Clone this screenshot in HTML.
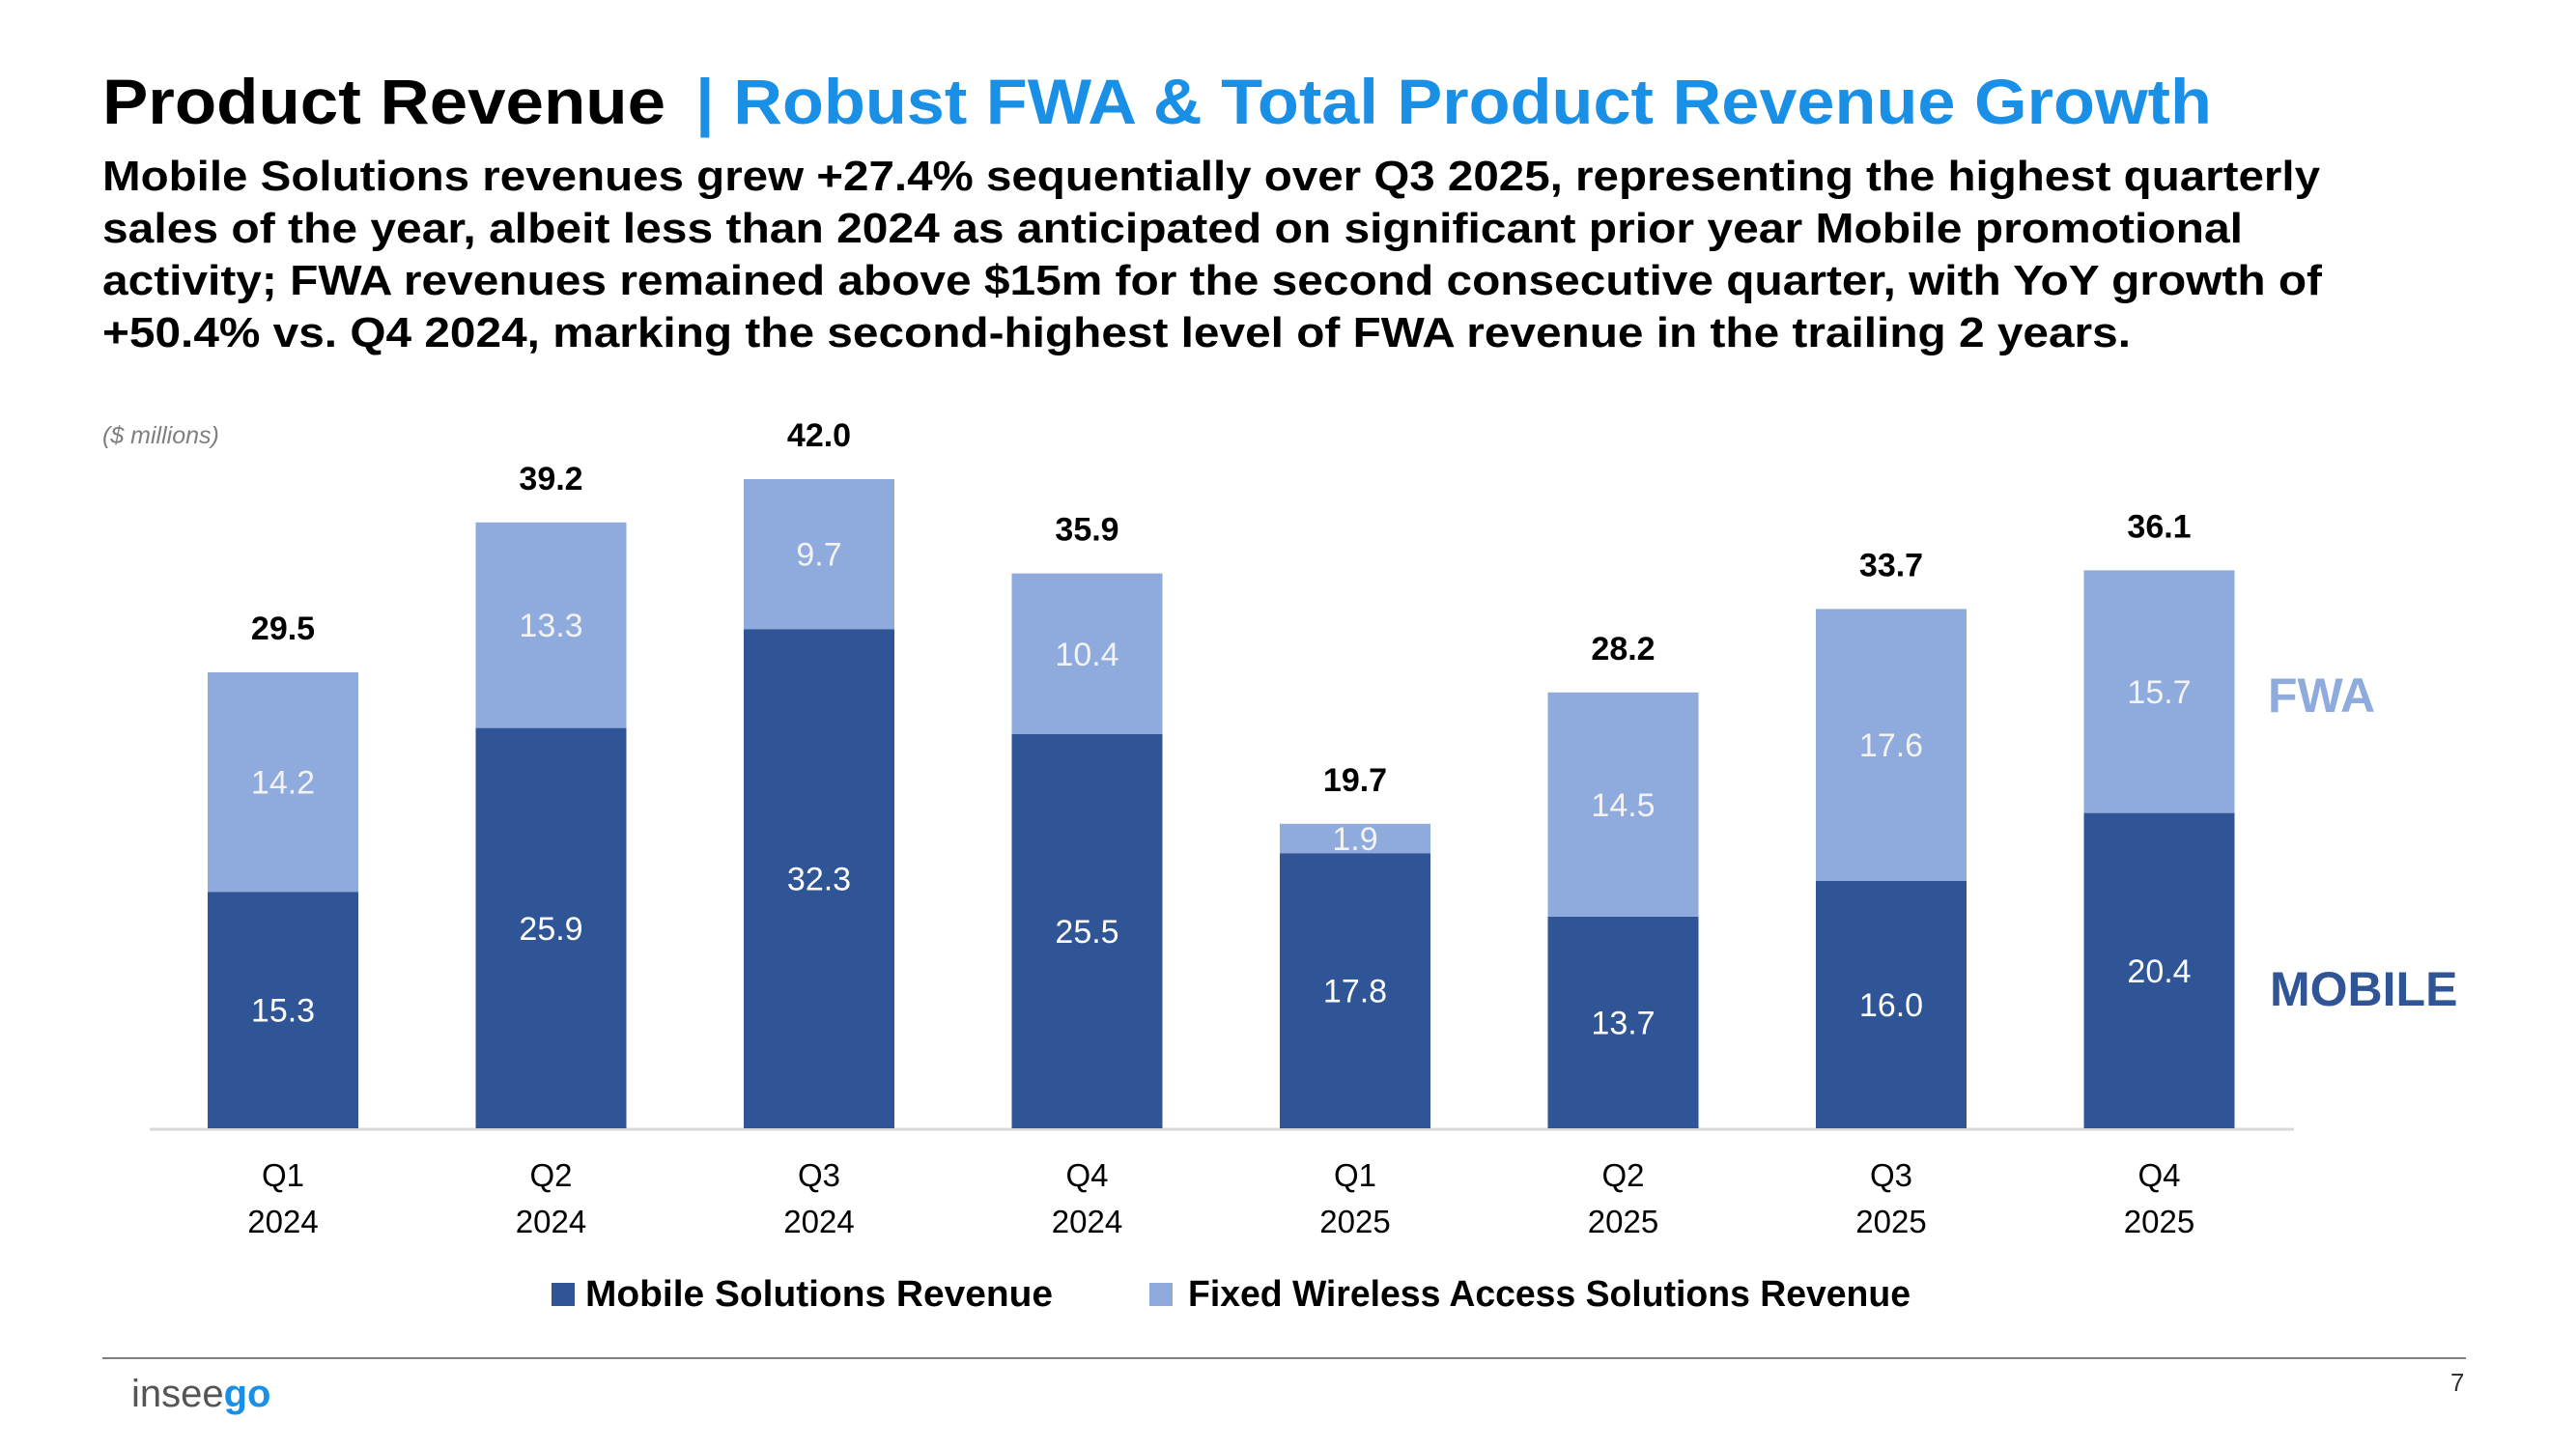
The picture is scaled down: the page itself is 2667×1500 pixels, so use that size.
<!DOCTYPE html>
<html><head><meta charset="utf-8"><style>
html,body{margin:0;padding:0;background:#fff;}
svg{display:block;font-family:"Liberation Sans",Arial,sans-serif;}
</style></head><body>
<svg id="chart" width="2667" height="1500" viewBox="0 0 2667 1500" xmlns="http://www.w3.org/2000/svg">
<text x="106" y="128" font-size="66" font-weight="bold" fill="#000" textLength="583" lengthAdjust="spacingAndGlyphs">Product Revenue</text>
<text x="720" y="128" font-size="66" font-weight="bold" fill="#1a8fe6" textLength="1570" lengthAdjust="spacingAndGlyphs">| Robust FWA &amp; Total Product Revenue Growth</text>
<g font-size="44" font-weight="bold" fill="#000">
<text x="106" y="197" textLength="2296" lengthAdjust="spacingAndGlyphs">Mobile Solutions revenues grew +27.4% sequentially over Q3 2025, representing the highest quarterly</text>
<text x="106" y="251" textLength="2216" lengthAdjust="spacingAndGlyphs">sales of the year, albeit less than 2024 as anticipated on significant prior year Mobile promotional</text>
<text x="106" y="305" textLength="2298" lengthAdjust="spacingAndGlyphs">activity; FWA revenues remained above $15m for the second consecutive quarter, with YoY growth of</text>
<text x="106" y="359" textLength="2100" lengthAdjust="spacingAndGlyphs">+50.4% vs. Q4 2024, marking the second-highest level of FWA revenue in the trailing 2 years.</text>
</g>
<text x="106" y="459" font-size="25" font-style="italic" fill="#7f7f7f">($ millions)</text>
<line x1="155" y1="1169" x2="2375" y2="1169" stroke="#d9d9d9" stroke-width="3"/>
<g id="bars"></g>
<text x="2348" y="737" font-size="50" font-weight="bold" fill="#8faadc">FWA</text>
<text x="2350" y="1041" font-size="50" font-weight="bold" fill="#2f5597">MOBILE</text>
<g>
<rect x="571" y="1328" width="24" height="24" fill="#2f5597"/>
<text x="606" y="1352" font-size="38" font-weight="bold" fill="#000" textLength="484" lengthAdjust="spacingAndGlyphs">Mobile Solutions Revenue</text>
<rect x="1190" y="1328" width="24" height="24" fill="#8faadc"/>
<text x="1230" y="1352" font-size="38" font-weight="bold" fill="#000" textLength="748" lengthAdjust="spacingAndGlyphs">Fixed Wireless Access Solutions Revenue</text>
</g>
<line x1="106" y1="1406" x2="2553" y2="1406" stroke="#7f7f7f" stroke-width="2"/>
<text x="136" y="1456" font-size="40" fill="#555"><tspan>insee</tspan><tspan fill="#1a8fe6" font-weight="bold">go</tspan></text>
<text x="2537" y="1440" font-size="26" fill="#333">7</text>
</svg>
<script>
const categories = ["Q1|2024","Q2|2024","Q3|2024","Q4|2024","Q1|2025","Q2|2025","Q3|2025","Q4|2025"];
const mobileValues = [15.3, 25.9, 32.3, 25.5, 17.8, 13.7, 16.0, 20.4];
const fwaValues = [14.2, 13.3, 9.7, 10.4, 1.9, 14.5, 17.6, 15.7];
const totalLabels = ["29.5","39.2","42.0","35.9","19.7","28.2","33.7","36.1"];

const NS = "http://www.w3.org/2000/svg";
const baseY = 1168, pxPerUnit = 16.0, firstX = 215, pitch = 277.5, barW = 156;
const y = v => baseY - v * pxPerUnit;
const x = i => firstX + i * pitch;
const g = document.getElementById('bars');
function mk(tag, attrs, text) {
  const e = document.createElementNS(NS, tag);
  for (const k in attrs) e.setAttribute(k, attrs[k]);
  if (text !== undefined) e.textContent = text;
  g.appendChild(e);
  return e;
}
categories.forEach((c, i) => {
  const m = mobileValues[i], f = fwaValues[i];
  const cx = x(i) + barW / 2;
  const r1 = mk('rect', {x: x(i), y: y(m), width: barW, height: m * pxPerUnit, fill: '#2f5597'});
  
  
  const r2 = mk('rect', {x: x(i), y: y(m + f), width: barW, height: f * pxPerUnit, fill: '#8faadc'});
  
  
  const t1 = mk('text', {x: cx, y: y(m / 2) + 12, 'text-anchor': 'middle', 'font-size': 34, fill: '#fff'}, m.toFixed(1));
  
  
  const t2 = mk('text', {x: cx, y: y(m + f / 2) + 12, 'text-anchor': 'middle', 'font-size': 34, fill: '#f2f2f2'}, f.toFixed(1));
  
  
  const t3 = mk('text', {x: cx, y: y(m + f) - 34, 'text-anchor': 'middle', 'font-size': 34, 'font-weight': 'bold', fill: '#000'}, totalLabels[i]);
  
  
  const parts = c.split('|');
  const q = mk('text', {x: cx, y: 1228, 'text-anchor': 'middle', 'font-size': 33, fill: '#000'}, parts[0]);
  
  
  const yr = mk('text', {x: cx, y: 1276, 'text-anchor': 'middle', 'font-size': 33, fill: '#000'}, parts[1]);
  
  
});
</script>
</body></html>
